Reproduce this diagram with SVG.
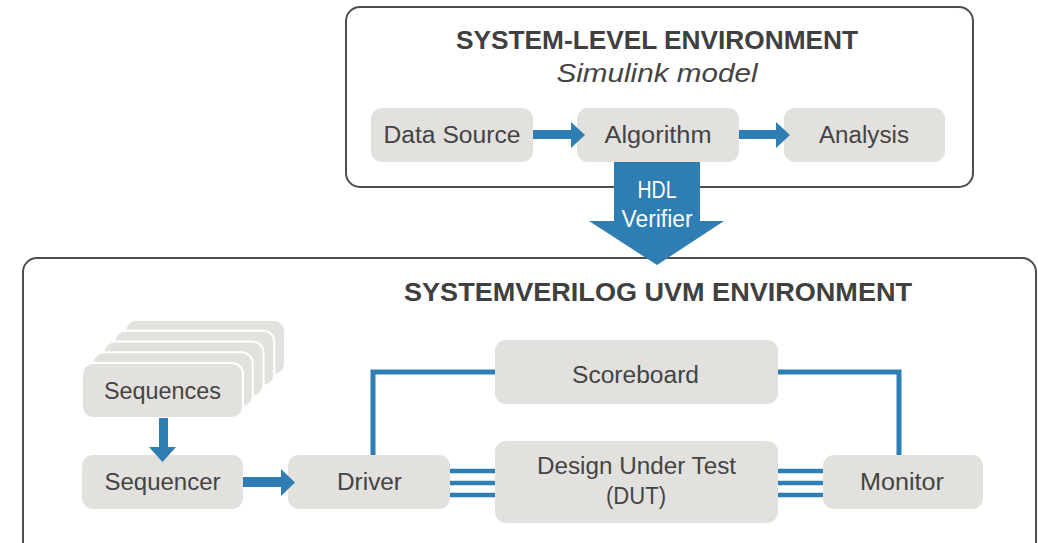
<svg xmlns="http://www.w3.org/2000/svg" width="1038" height="543" viewBox="0 0 1038 543">
<style>
.env{fill:#ffffff;stroke:#4d4d4d;stroke-width:2}
.node{fill:#e2e1dd}
.card{fill:#e2e1dd;stroke:#ffffff;stroke-width:2}
.lbl{font-family:"Liberation Sans",Arial,sans-serif;font-size:23px;fill:#444444;text-anchor:middle}
.title{font-family:"Liberation Sans",Arial,sans-serif;font-size:26px;font-weight:bold;fill:#404040;text-anchor:middle}
.sub{font-family:"Liberation Sans",Arial,sans-serif;font-size:26px;font-style:italic;fill:#444444;text-anchor:middle}
.wht{font-family:"Liberation Sans",Arial,sans-serif;font-size:23px;fill:#ffffff;text-anchor:middle}
.arr{fill:#2e7db3}
.wire{fill:none;stroke:#2e7db3;stroke-width:5}
.bus{fill:none;stroke:#2e7db3;stroke-width:4.5}
</style>
<rect width="1038" height="543" fill="#ffffff"/>
<g id="system-level-env">
<rect class="env" x="346" y="7" width="627" height="180" rx="14"/>
<text class="title" x="657" y="49" textLength="402" lengthAdjust="spacingAndGlyphs">SYSTEM-LEVEL ENVIRONMENT</text>
<text class="sub" x="657" y="82" textLength="201" lengthAdjust="spacingAndGlyphs">Simulink model</text>
</g>
<g id="uvm-env">
<rect class="env" x="23" y="258" width="1013" height="320" rx="14"/>
<text class="title" x="658" y="301" textLength="508" lengthAdjust="spacingAndGlyphs">SYSTEMVERILOG UVM ENVIRONMENT</text>
</g>
<g id="data-source"><rect class="node" x="371" y="108" width="162" height="54" rx="11"/><text class="lbl" x="452" y="143" textLength="137" lengthAdjust="spacingAndGlyphs">Data Source</text></g>
<g id="algorithm"><rect class="node" x="577" y="108" width="162" height="54" rx="11"/><text class="lbl" x="658" y="143" textLength="107" lengthAdjust="spacingAndGlyphs">Algorithm</text></g>
<g id="analysis"><rect class="node" x="784" y="108" width="161" height="54" rx="11"/><text class="lbl" x="864" y="143" textLength="90" lengthAdjust="spacingAndGlyphs">Analysis</text></g>
<g id="sequences">
<rect class="card" x="125" y="320" width="160" height="55" rx="11"/>
<rect class="card" x="114.25" y="330.75" width="160" height="55" rx="11"/>
<rect class="card" x="103.5" y="341.5" width="160" height="55" rx="11"/>
<rect class="card" x="92.75" y="352.25" width="160" height="55" rx="11"/>
<rect class="card" x="82" y="363" width="161" height="55" rx="11"/>
<text class="lbl" x="162.5" y="399" textLength="117" lengthAdjust="spacingAndGlyphs">Sequences</text>
</g>
<g id="sequencer"><rect class="node" x="82" y="455" width="161" height="54" rx="11"/><text class="lbl" x="162.5" y="490" textLength="116" lengthAdjust="spacingAndGlyphs">Sequencer</text></g>
<g id="driver"><rect class="node" x="288" y="455" width="162" height="54" rx="11"/><text class="lbl" x="369.5" y="490" textLength="65" lengthAdjust="spacingAndGlyphs">Driver</text></g>
<g id="scoreboard"><rect class="node" x="495" y="340" width="283" height="64" rx="11"/><text class="lbl" x="635.5" y="383" textLength="127" lengthAdjust="spacingAndGlyphs">Scoreboard</text></g>
<g id="dut"><rect class="node" x="495" y="441" width="283" height="82" rx="11"/><text class="lbl" x="636.5" y="474" textLength="199" lengthAdjust="spacingAndGlyphs">Design Under Test</text><text class="lbl" x="636" y="504" textLength="60" lengthAdjust="spacingAndGlyphs">(DUT)</text></g>
<g id="monitor"><rect class="node" x="823" y="455" width="160" height="54" rx="11"/><text class="lbl" x="902" y="490" textLength="84" lengthAdjust="spacingAndGlyphs">Monitor</text></g>
<g id="connectors">
<polygon class="arr" points="533,130 571,130 571,122 585,135 571,148 571,139 533,139"/>
<polygon class="arr" points="739,130 776,130 776,122 790,135 776,148 776,139 739,139"/>
<polygon class="arr" points="159,418 168,418 168,447 176,447 162.5,462 149,447 159,447"/>
<polygon class="arr" points="243,477 281,477 281,469 295,482.5 281,496 281,487 243,487"/>
<polyline class="wire" points="373,455 373,372 495,372"/>
<polyline class="wire" points="778,372 899,372 899,455"/>
<path class="bus" d="M450,471H495M450,483H495M450,495H495M778,471H823M778,483H823M778,495H823"/>
<g id="hdl-verifier">
<polygon class="arr" points="614,162 700,162 700,221 724,221 657,265 589,221 614,221"/>
<text class="wht" x="657" y="198" textLength="39" lengthAdjust="spacingAndGlyphs">HDL</text>
<text class="wht" x="657" y="227" textLength="71" lengthAdjust="spacingAndGlyphs">Verifier</text>
</g>
</g>
</svg>
